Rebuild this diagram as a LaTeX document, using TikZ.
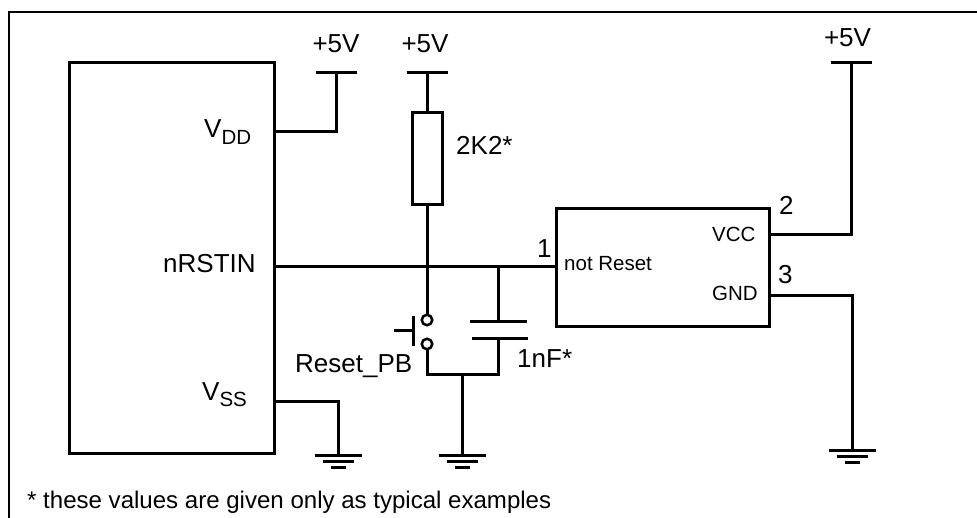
\documentclass[tikz,border=0pt]{standalone}
\usepackage{fontspec}
\setmainfont{Liberation Sans}
\newcommand{\lblsub}[2]{#1\raisebox{-0.24em}{\fontsize{20.5}{20.5}\selectfont #2}}
\tikzset{
  wire/.style={line width=3pt,line cap=rect},
  partbox/.style={draw,line width=3pt,inner sep=0pt},
  contact/.style={draw,circle,line width=2.5pt,inner sep=0pt,minimum size=10.5pt},
  biglbl/.style={inner sep=0pt,anchor=base west,font=\fontsize{26}{30}\selectfont},
  smalllbl/.style={inner sep=0pt,anchor=base west,font=\fontsize{20.5}{24}\selectfont}
}
\begin{document}
\begin{tikzpicture}[x=1pt,y=-1pt]
  \useasboundingbox (0,0) rectangle (977,518);
  \draw[line width=2pt] (9,518)--(9,12)--(977,12);

  \node[partbox,minimum width=205pt,minimum height=390pt] (mcu) at (171.5,258) {};
  \node[partbox,minimum width=213pt,minimum height=118pt] (chip) at (662.5,268) {};
  \node[partbox,minimum width=30pt,minimum height=92pt] (res) at (427,159) {};
  \node[contact] (swtop) at (427,320) {};
  \node[contact] (swbot) at (427,344) {};

  \coordinate (sup1) at (336,73);
  \coordinate (sup2) at (427,73);
  \coordinate (sup3) at (851,63);
  \coordinate (gnd1) at (338,455);
  \coordinate (gnd2) at (462,455);
  \coordinate (gnd3) at (852,450);
  \coordinate (capup) at (498,322);
  \coordinate (capdn) at (498,339);
  \coordinate (nrst) at (427,267);
  \coordinate (capj) at (498,267);
  \coordinate (botj) at (462,375);

  \foreach \s in {sup1,sup2,sup3}
    \draw[wire,line cap=butt] ([xshift=-20.5pt]\s) -- ([xshift=20.5pt]\s);
  \foreach \g in {gnd1,gnd2,gnd3}
  {
    \draw[line width=3pt] ([xshift=-23.5pt]\g) -- ([xshift=23.5pt]\g);
    \draw[line width=3pt] ([xshift=-15.5pt,yshift=-6pt]\g) -- ([xshift=15.5pt,yshift=-6pt]\g);
    \draw[line width=3pt] ([xshift=-7.5pt,yshift=-12pt]\g) -- ([xshift=7.5pt,yshift=-12pt]\g);
  }

  \draw[wire] (mcu.east |- 0,132) -| (sup1);
  \draw[wire] (sup2) -- (res.north);
  \draw[wire] (res.south) -- (swtop.north);
  \draw[wire] (mcu.east |- nrst) -- (chip.west |- nrst);
  \draw[wire] (mcu.east |- 0,401) -| (gnd1);
  \draw[wire] (capj) -- (capup);
  \draw[wire] (swbot.south) |- (botj) -| (capdn);
  \draw[wire] (botj) -- (gnd2);
  \draw[wire] (chip.east |- 0,235) -| (sup3);
  \draw[wire] (chip.east |- 0,296) -| (gnd3);

  \draw[line width=3pt] (470,322)--(527,322);
  \draw[line width=3pt] (472,339)--(528,339);
  \draw[line width=3pt] (413,316)--(413,346);
  \draw[line width=3pt] (394,331)--(413,331);

  \node[biglbl,anchor=base] (lsup1) at (336,53) {+5V};
  \node[biglbl,anchor=base] (lsup2) at (425,53) {+5V};
  \node[biglbl,anchor=base] (lsup3) at (847.5,47) {+5V};
  \node[biglbl] (lres) at (456,155) {2K2*};
  \node[biglbl] (lvdd) at (204,138) {\lblsub{V}{DD}};
  \node[biglbl] (lrst) at (163,273) {nRSTIN};
  \node[biglbl] (lvss) at (202,400) {\lblsub{V}{SS}};
  \node[biglbl] (lpb) at (295,373) {Reset\_PB};
  \node[biglbl] (lcap) at (517,367) {1nF*};
  \node[biglbl] (lp1) at (537,258) {1};
  \node[biglbl] (lp2) at (779,215) {2};
  \node[biglbl] (lp3) at (778,284) {3};
  \node[smalllbl] (lnot) at (564,271) {not Reset};
  \node[smalllbl] (lvcc) at (712,242) {VCC};
  \node[smalllbl] (lgnd) at (712,301) {GND};
  \node[biglbl,font=\fontsize{24.05}{28}\selectfont] (lnote) at (27,508) {* these values are given only as typical examples};
\end{tikzpicture}
\end{document}
